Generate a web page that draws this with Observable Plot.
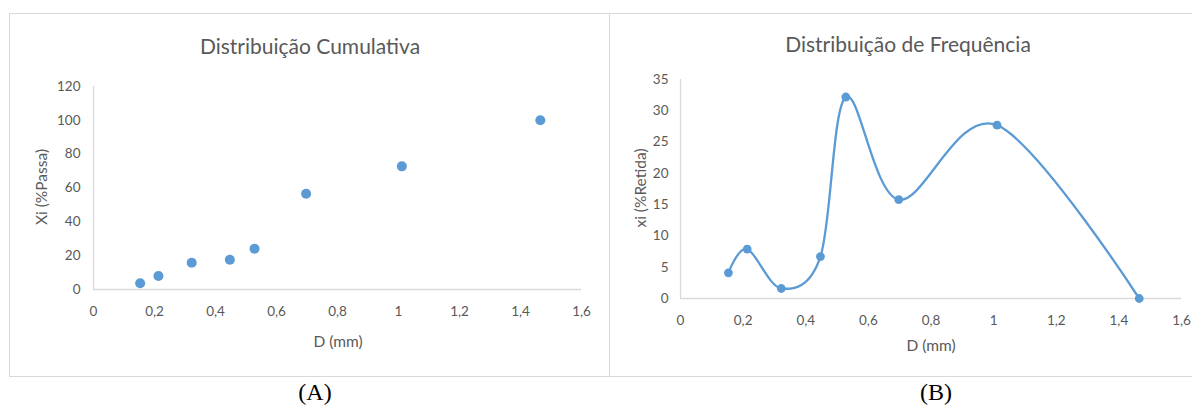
<!DOCTYPE html>
<html><head><meta charset="utf-8">
<script src="https://cdn.jsdelivr.net/npm/d3@7"></script>
<script src="https://cdn.jsdelivr.net/npm/@observablehq/plot@0.6"></script>
<style>
body{margin:0;background:#fff;}
#wrap{position:relative;width:1192px;height:406px;overflow:hidden;background:#fff;font-family:Lato,sans-serif;}
.panel{position:absolute;border:1px solid #d9d9d9;box-sizing:border-box;}
.t{position:absolute;white-space:nowrap;color:#595959;transform:translate(-50%,-50%);}
.title{font-size:21px;}
.alab{font-size:15.5px;}
.rot{transform:translate(-50%,-50%) rotate(-90deg);}
.cap{font-family:"Liberation Serif",serif;font-size:24px;color:#000;}
.chart{position:absolute;top:0;}
</style></head>
<body><div id="wrap">
<div class="panel" style="left:9px;top:13px;width:601px;height:364px;"></div>
<div class="panel" style="left:609px;top:13px;width:600px;height:364px;"></div>
<div id="ca" class="chart" style="left:0px"></div>
<div id="cb" class="chart" style="left:600px"></div>
<div class="t title" style="left:310px;top:45px;">Distribuição Cumulativa</div>
<div class="t title" style="left:908px;top:43px;">Distribuição de Frequência</div>
<div class="t alab" style="left:338px;top:341px;">D (mm)</div>
<div class="t alab" style="left:931px;top:345px;">D (mm)</div>
<div class="t alab rot" style="left:41px;top:187px;">Xi (%Passa)</div>
<div class="t alab rot" style="left:640px;top:188px;">xi (%Retida)</div>
<div class="t cap" style="left:315px;top:392px;">(A)</div>
<div class="t cap" style="left:936px;top:392px;">(B)</div>
</div>
<script>
// Data
const D = [0.153, 0.213, 0.322, 0.447, 0.528, 0.697, 1.011, 1.465];
const passa = [3.7, 8, 15.8, 17.6, 24.1, 56.6, 72.8, 100];
const retida = [4.1, 7.9, 1.6, 6.7, 32.2, 15.8, 27.7, 0];
const xTicks = [0, 0.2, 0.4, 0.6, 0.8, 1, 1.2, 1.4, 1.6];
const xTickLabels = ["0", "0,2", "0,4", "0,6", "0,8", "1", "1,2", "1,4", "1,6"];
const yTicksA = [0, 20, 40, 60, 80, 100, 120];
const yTicksB = [0, 5, 10, 15, 20, 25, 30, 35];

const blue = "#5b9bd5";
const grey = "#d9d9d9";
const txt = "#595959";
const fmtX = d => xTickLabels[xTicks.findIndex(t => Math.abs(t - d) < 1e-9)];

const rowsA = D.map((d, i) => ({d, v: passa[i]}));
const rowsB = D.map((d, i) => ({d, v: retida[i]}));

const common = {
  style: {fontFamily: "Lato, sans-serif", fontSize: "13.5px", color: txt, background: "transparent", overflow: "visible"}
};

const a = Plot.plot({
  ...common,
  width: 610, height: 406,
  marginLeft: 93, marginRight: 29, marginTop: 86, marginBottom: 117,
  x: {domain: [0, 1.6]},
  y: {domain: [0, 120]},
  marks: [
    Plot.axisX({ticks: xTicks, tickFormat: fmtX, tickSize: 0, tickPadding: 17, label: null, fill: txt}),
    Plot.axisY({ticks: yTicksA, tickSize: 0, tickPadding: 13, label: null, fill: txt}),
    Plot.ruleX([0], {stroke: grey, strokeWidth: 1.3}),
    Plot.ruleY([0], {stroke: grey, strokeWidth: 1.6}),
    Plot.dot(rowsA, {x: "d", y: "v", r: 5, fill: blue, stroke: "none"})
  ]
});
document.getElementById("ca").append(a);

const b = Plot.plot({
  ...common,
  width: 592, height: 406,
  marginLeft: 80, marginRight: 11, marginTop: 79, marginBottom: 108,
  x: {domain: [0, 1.6]},
  y: {domain: [0, 35]},
  marks: [
    Plot.axisX({ticks: xTicks, tickFormat: fmtX, tickSize: 0, tickPadding: 17, label: null, fill: txt}),
    Plot.axisY({ticks: yTicksB, tickSize: 0, tickPadding: 12, label: null, fill: txt}),
    Plot.ruleX([0], {stroke: grey, strokeWidth: 1.3}),
    Plot.ruleY([0], {stroke: grey, strokeWidth: 1.6}),
    Plot.line(rowsB, {x: "d", y: "v", curve: "cardinal", stroke: blue, strokeWidth: 2.3}),
    Plot.dot(rowsB, {x: "d", y: "v", r: 4.4, fill: blue, stroke: "none"})
  ]
});
document.getElementById("cb").append(b);
</script>
</body></html>
